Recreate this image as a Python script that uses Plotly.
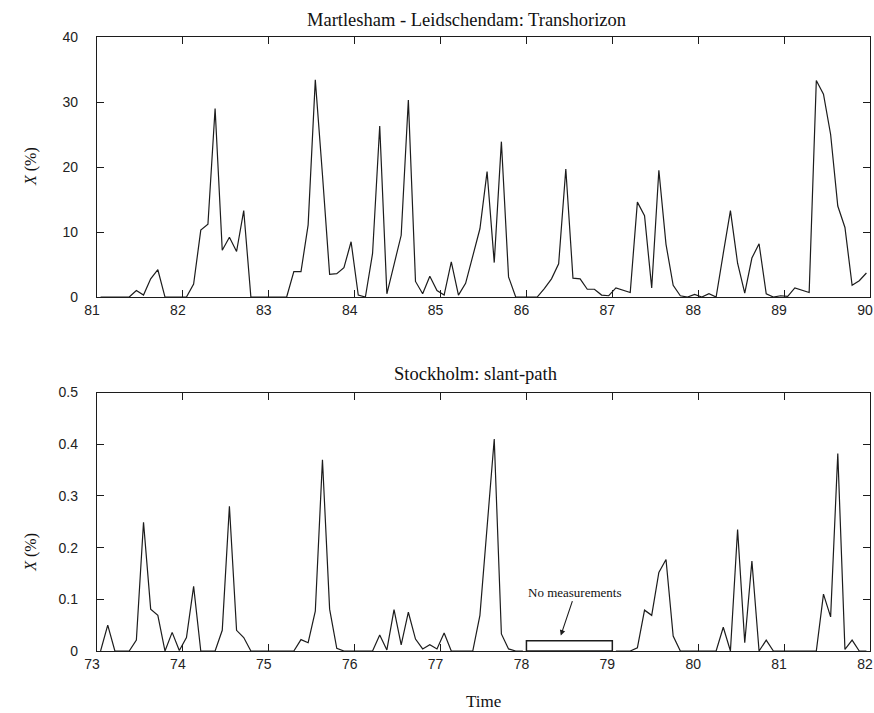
import plotly.graph_objects as go

# ---- Martlesham - Leidschendam (transhorizon), monthly X (%) 1981-1989 ----
top_start_year = 81
top_years = list(range(81, 91))
top_values = (
    [0, 0, 0, 0, 0, 1.0, 0.3, 2.8, 4.2, 0, 0, 0]                    # 81
    + [0, 2.0, 10.3, 11.2, 29.0, 7.2, 9.2, 7.0, 13.3, 0, 0, 0]      # 82
    + [0, 0, 0, 3.9, 3.9, 11.1, 33.4, 18.8, 3.5, 3.6, 4.5, 8.5]     # 83
    + [0.3, 0, 6.7, 26.3, 0.5, 5.0, 9.5, 30.3, 2.4, 0.5, 3.2, 1.0]  # 84
    + [0.3, 5.4, 0.3, 2.1, 6.4, 10.5, 19.3, 5.3, 23.9, 3.1, 0, 0]   # 85
    + [0, 0, 1.3, 2.8, 5.1, 19.7, 2.9, 2.8, 1.2, 1.2, 0.3, 0.2]     # 86
    + [1.4, 1.1, 0.7, 14.6, 12.5, 1.4, 19.5, 8.1, 1.8, 0.2, 0, 0.4] # 87
    + [0, 0.5, 0, 6.7, 13.3, 5.2, 0.6, 6.0, 8.2, 0.5, 0, 0.2]       # 88
    + [0.1, 1.4, 1.1, 0.7, 33.3, 31.2, 25.0, 14.0, 10.7, 1.8, 2.5, 3.7]  # 89
)
top_yticks = [0, 10, 20, 30, 40]

# ---- Stockholm (slant path), monthly X (%) 1973-1981, no data in 1978 ----
bot_start_year = 73
bot_years = list(range(73, 83))
bot_values = (
    [0, 0.05, 0, 0, 0, 0.021, 0.249, 0.081, 0.069, 0, 0.036, 0.001]      # 73
    + [0.026, 0.125, 0, 0, 0, 0.04, 0.28, 0.04, 0.026, 0, 0, 0]          # 74
    + [0, 0, 0, 0, 0.022, 0.016, 0.077, 0.37, 0.081, 0.005, 0, 0]        # 75
    + [0, 0, 0, 0.031, 0.002, 0.08, 0.012, 0.075, 0.023, 0.004, 0.012, 0.004]  # 76
    + [0.035, 0, 0, 0, 0, 0.069, 0.24, 0.41, 0.033, 0.004, 0, 0]         # 77
    + [None] * 12                                                        # 78
    + [0, 0, 0, 0.006, 0.079, 0.069, 0.152, 0.177, 0.029, 0, 0, 0]       # 79
    + [0, 0, 0, 0.046, 0, 0.235, 0.016, 0.174, 0, 0.021, 0, 0]           # 80
    + [0, 0, 0, 0, 0, 0.11, 0.066, 0.382, 0.003, 0.021, 0, 0]            # 81
)
bot_yticks = [0, 0.1, 0.2, 0.3, 0.4, 0.5]

# gap without measurements (years, X %)
gap_start, gap_end, gap_height = 78, 79, 0.02
gap_label = "No measurements"
gap_arrow_head = (78.40, 0.03)
gap_label_pos = (78.57, 0.114)

top_title = "Martlesham - Leidschendam: Transhorizon"
bot_title = "Stockholm: slant-path"
x_title = "Time"
y_title = "<i>X</i> (%)"


def month_times(start_year, n):
    # centre of each month
    return [start_year + (k + 0.5) / 12 for k in range(n)]


INK = "#1c1c1c"
SERIF = "Liberation Serif, Times New Roman, serif"
SANS = "Liberation Sans, Arial, sans-serif"

fig = go.Figure()
fig.add_trace(go.Scatter(
    x=month_times(top_start_year, len(top_values)), y=top_values,
    mode="lines", line=dict(color=INK, width=1.2),
    xaxis="x", yaxis="y", showlegend=False, connectgaps=False,
))
fig.add_trace(go.Scatter(
    x=month_times(bot_start_year, len(bot_values)), y=bot_values,
    mode="lines", line=dict(color=INK, width=1.2),
    xaxis="x2", yaxis="y2", showlegend=False, connectgaps=False,
))

axis_style = dict(
    showline=True, linecolor=INK, linewidth=1.3, mirror="allticks",
    ticks="inside", ticklen=7, tickwidth=1.2, tickcolor=INK,
    showgrid=False, zeroline=False, ticklabeloverflow="allow",
    automargin=False,
    tickfont=dict(family=SANS, size=14, color="#222"),
)

top_dom = [0.5765, 1.0]
bot_dom = [0.0, 0.421]

fig.update_layout(
    width=874, height=713,
    margin=dict(l=97, r=4, t=37, b=62),
    paper_bgcolor="white", plot_bgcolor="white",
    xaxis=dict(axis_style, domain=[0, 1], range=[top_years[0], top_years[-1]],
               tickvals=top_years, anchor="y", ticklabelshift=-5),
    yaxis=dict(axis_style, domain=top_dom, range=[top_yticks[0], top_yticks[-1]],
               tickvals=top_yticks, anchor="x", ticklabelstandoff=15),
    xaxis2=dict(axis_style, domain=[0, 1], range=[bot_years[0], bot_years[-1]],
                tickvals=bot_years, anchor="y2", ticklabelshift=-5),
    yaxis2=dict(axis_style, domain=bot_dom, range=[bot_yticks[0], bot_yticks[-1]],
                tickvals=bot_yticks, ticktext=[f"{v:g}" for v in bot_yticks],
                anchor="x2", ticklabelstandoff=15),
)

# box marking the period without measurements
fig.add_shape(type="rect", xref="x2", yref="y2",
              x0=gap_start, x1=gap_end, y0=0, y1=gap_height,
              line=dict(color=INK, width=1.5), fillcolor="rgba(0,0,0,0)")

annotations = [
    dict(text=top_title, xref="paper", yref="paper", x=0.4777, y=1.0,
         yshift=5, xanchor="center", yanchor="bottom", showarrow=False,
         font=dict(family=SERIF, size=18.5, color="#111")),
    dict(text=bot_title, xref="paper", yref="paper", x=0.4897, y=bot_dom[1],
         yshift=7, xanchor="center", yanchor="bottom", showarrow=False,
         font=dict(family=SERIF, size=18.5, color="#111")),
    dict(text=x_title, xref="paper", yref="paper", x=0.5, y=0,
         yshift=-62, xanchor="center", yanchor="bottom", showarrow=False,
         font=dict(family=SERIF, size=17, color="#111")),
    dict(text=y_title, xref="paper", yref="paper", x=0, xshift=-66,
         y=(top_dom[0] + top_dom[1]) / 2, xanchor="center", yanchor="middle",
         textangle=-90, showarrow=False,
         font=dict(family=SERIF, size=16, color="#111")),
    dict(text=y_title, xref="paper", yref="y2", x=0, xshift=-66,
         y=0.19, xanchor="center", yanchor="middle",
         textangle=-90, showarrow=False,
         font=dict(family=SERIF, size=16, color="#111")),
    dict(text=gap_label, xref="x2", yref="y2",
         x=gap_arrow_head[0], y=gap_arrow_head[1],
         axref="x2", ayref="y2", ax=gap_label_pos[0], ay=gap_label_pos[1],
         showarrow=True, arrowhead=2, arrowsize=1, arrowwidth=1.1,
         arrowcolor=INK, font=dict(family=SERIF, size=13, color="#111")),
]
fig.update_layout(annotations=annotations)

fig.write_html("out.html")
